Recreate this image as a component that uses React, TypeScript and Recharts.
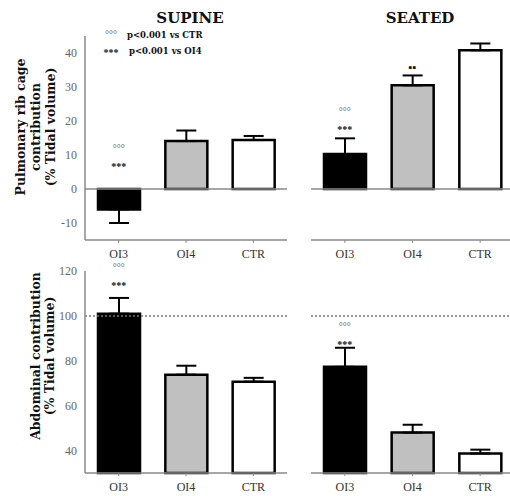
import React from "react";
import { ComposedChart, Bar, Cell, XAxis, YAxis, ErrorBar, ReferenceLine, Scatter } from "recharts";

const categories = ["OI3", "OI4", "CTR"];
const barColors = ["#000000", "#c0c0c0", "#ffffff"];

const ribSupine = [-6, 14.1, 14.4];
const ribSupineErr = [4, 3.1, 1.2];
const ribSupineNeg = [true, false, false];
const ribSupineMarkTop = ["°°°", "", ""];
const ribSupineMarkBottom = ["***", "", ""];
const ribSupineMarkY = [7.6, null, null];

const ribSeated = [10.3, 30.5, 40.8];
const ribSeatedErr = [4.6, 2.9, 2.0];
const ribSeatedNeg = [false, false, false];
const ribSeatedMarkTop = ["°°°", "", ""];
const ribSeatedMarkBottom = ["***", "▪▪", ""];
const ribSeatedMarkY = [18.5, 35.9, null];

const abdSupine = [101, 73.8, 70.7];
const abdSupineErr = [7, 4, 1.7];
const abdSupineMarkTop = ["°°°", "", ""];
const abdSupineMarkBottom = ["***", "", ""];
const abdSupineMarkY = [114.7, null, null];

const abdSeated = [77.3, 48, 38.7];
const abdSeatedErr = [8.5, 3.5, 1.7];
const abdSeatedMarkTop = ["°°°", "", ""];
const abdSeatedMarkBottom = ["***", "", ""];
const abdSeatedMarkY = [88.4, null, null];

const ribTicks = [-10, 0, 10, 20, 30, 40];
const ribDomain = [-15, 45];
const abdTicks = [40, 60, 80, 100, 120];
const abdDomain = [30, 120];

const titles = ["SUPINE", "SEATED"];
const legendMarks = ["°°°", "***"];
const legendTexts = ["p<0.001 vs CTR", "p<0.001 vs OI4"];
const ribLabel = ["Pulmonary rib cage", "contribution", "(% Tidal volume)"];
const abdLabel = ["Abdominal contribution", "(% Tidal volume)"];

const build = (vals: number[], errs: number[], neg: boolean[], top: string[], bottom: string[], my: (number | null)[]) =>
  categories.map((name, i) => ({
    name,
    value: vals[i],
    err: neg[i] ? [errs[i], 0] : [0, errs[i]],
    markTop: top[i],
    markBottom: bottom[i],
    markY: my[i],
  }));

const noNeg = [false, false, false];
const dataRibSupine = build(ribSupine, ribSupineErr, ribSupineNeg, ribSupineMarkTop, ribSupineMarkBottom, ribSupineMarkY);
const dataRibSeated = build(ribSeated, ribSeatedErr, ribSeatedNeg, ribSeatedMarkTop, ribSeatedMarkBottom, ribSeatedMarkY);
const dataAbdSupine = build(abdSupine, abdSupineErr, noNeg, abdSupineMarkTop, abdSupineMarkBottom, abdSupineMarkY);
const dataAbdSeated = build(abdSeated, abdSeatedErr, noNeg, abdSeatedMarkTop, abdSeatedMarkBottom, abdSeatedMarkY);

const SERIF = "'Liberation Serif', 'DejaVu Serif', serif";
const BOLD = "'DejaVu Serif', serif";

const MarkShape = (props: any) => {
  const { cx, cy, payload } = props;
  if (!payload || payload.markY == null || !Number.isFinite(cx) || !Number.isFinite(cy)) return <g />;
  const isSq = payload.markBottom === "▪▪";
  return (
    <g>
      {payload.markTop ? (
        <text x={cx} y={cy - 15} textAnchor="middle" dominantBaseline="central" fontFamily={SERIF} fontSize={10} fill="#555">
          {payload.markTop}
        </text>
      ) : null}
      <text x={cx} y={cy + (isSq ? 0 : 3)} textAnchor="middle" dominantBaseline="central" fontFamily={SERIF} fontSize={isSq ? 11 : 10} fontWeight="bold" fill="#111">
        {payload.markBottom}
      </text>
    </g>
  );
};

type PanelProps = {
  data: any[];
  left: number;
  top: number;
  width: number;
  height: number;
  marginTop: number;
  xHeight: number;
  domain: number[];
  ticks: number[];
  showY: boolean;
  zeroLine?: boolean;
  dottedLine?: number;
};

const Panel = (p: PanelProps) => (
  <div style={{ position: "absolute", left: p.left, top: p.top }}>
    <ComposedChart width={p.width} height={p.height} data={p.data} margin={{ top: p.marginTop, right: 0, left: 0, bottom: 0 }}>
      <XAxis
        dataKey="name"
        type="category"
        height={p.xHeight}
        axisLine={{ stroke: "#888", strokeWidth: 1.5 }}
        tickLine={{ stroke: "#888" }}
        tickSize={3}
        tickMargin={6}
        interval={0}
        tick={{ fill: "#333", fontSize: 12, fontFamily: SERIF }}
      />
      <YAxis
        hide={!p.showY}
        width={85}
        type="number"
        domain={p.domain}
        ticks={p.ticks}
        axisLine={{ stroke: "#888", strokeWidth: 1.5 }}
        tickLine={false}
        tick={{ fill: "#666", fontSize: 12, fontFamily: SERIF }}
      />
      {p.zeroLine ? <ReferenceLine y={0} stroke="#888" strokeWidth={1.5} /> : null}
      {p.dottedLine != null ? <ReferenceLine y={p.dottedLine} stroke="#777" strokeWidth={1.5} strokeDasharray="2 2" /> : null}
      <Bar dataKey="value" barSize={42} stroke="#000" strokeWidth={2.5} isAnimationActive={false}>
        {p.data.map((_, i) => (
          <Cell key={i} fill={barColors[i]} />
        ))}
        <ErrorBar dataKey="err" width={10} stroke="#000" strokeWidth={2} direction="y" />
      </Bar>
      <Scatter dataKey="markY" shape={MarkShape} isAnimationActive={false} />
    </ComposedChart>
  </div>
);

export default function App() {
  return (
    <div style={{ position: "absolute", left: 0, top: 0, width: 510, height: 496, overflow: "hidden", background: "#fff" }}>
      <Panel data={dataRibSupine} left={0} top={0} width={287} height={270} marginTop={36} xHeight={30} domain={ribDomain} ticks={ribTicks} showY zeroLine />
      <Panel data={dataRibSeated} left={311} top={0} width={203} height={270} marginTop={36} xHeight={30} domain={ribDomain} ticks={ribTicks} showY={false} zeroLine />
      <Panel data={dataAbdSupine} left={0} top={250} width={287} height={246} marginTop={21} xHeight={23} domain={abdDomain} ticks={abdTicks} showY dottedLine={100} />
      <Panel data={dataAbdSeated} left={311} top={250} width={203} height={246} marginTop={21} xHeight={23} domain={abdDomain} ticks={abdTicks} showY={false} dottedLine={100} />
      <svg width={510} height={496} style={{ position: "absolute", left: 0, top: 0, pointerEvents: "none" }}>
        <text x={190} y={18} textAnchor="middle" dominantBaseline="central" fontFamily={BOLD} fontWeight="bold" fontSize={15} fill="#111">
          {titles[0]}
        </text>
        <text x={420} y={18} textAnchor="middle" dominantBaseline="central" fontFamily={BOLD} fontWeight="bold" fontSize={15} fill="#111">
          {titles[1]}
        </text>
        <text x={111} y={34} textAnchor="middle" dominantBaseline="central" fontFamily={SERIF} fontSize={10} fill="#555">
          {legendMarks[0]}
        </text>
        <text x={127} y={35} dominantBaseline="central" fontFamily={BOLD} fontWeight="bold" fontSize={8.5} fill="#111">
          {legendTexts[0]}
        </text>
        <text x={111} y={52} textAnchor="middle" dominantBaseline="central" fontFamily={SERIF} fontWeight="bold" fontSize={10} fill="#111">
          {legendMarks[1]}
        </text>
        <text x={129} y={51} dominantBaseline="central" fontFamily={BOLD} fontWeight="bold" fontSize={8.5} fill="#111">
          {legendTexts[1]}
        </text>
        <g transform="translate(0,127) rotate(-90)">
          {ribLabel.map((t, i) => (
            <text key={i} x={0} y={20 + i * 15} textAnchor="middle" dominantBaseline="central" fontFamily={BOLD} fontWeight="bold" fontSize={12.5} fill="#111">
              {t}
            </text>
          ))}
        </g>
        <g transform="translate(0,356) rotate(-90)">
          {abdLabel.map((t, i) => (
            <text key={i} x={0} y={35 + i * 14} textAnchor="middle" dominantBaseline="central" fontFamily={BOLD} fontWeight="bold" fontSize={12.5} fill="#111">
              {t}
            </text>
          ))}
        </g>
      </svg>
    </div>
  );
}
